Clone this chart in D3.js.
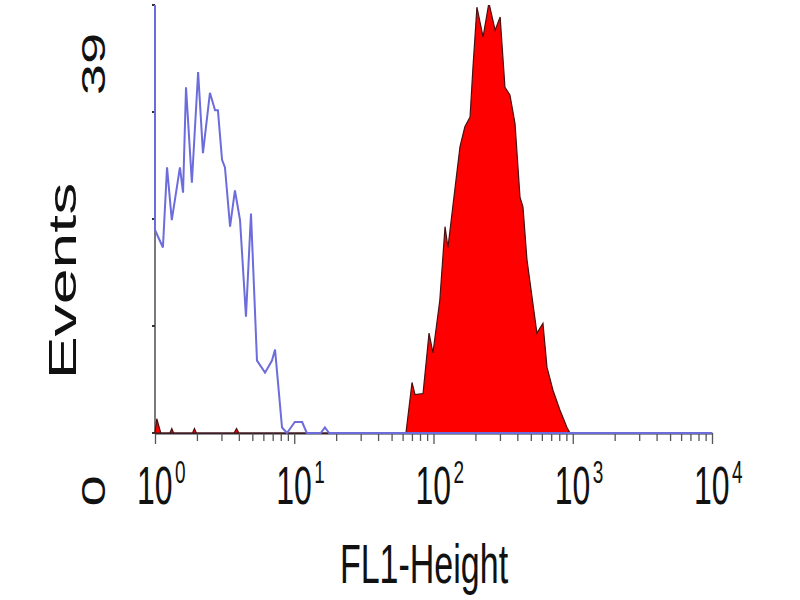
<!DOCTYPE html>
<html>
<head>
<meta charset="utf-8">
<script src="https://cdn.jsdelivr.net/npm/d3@7"></script>
<style>
  body { margin: 0; background: #fff; }
  text { font-family: "Liberation Sans", Arial, sans-serif; fill: #111; }
</style>
</head>
<body>
<svg id="chart" width="800" height="600"></svg>
<script>
// isotype control (blue outline)
const blueFL1 = [1, 1, 1.14, 1.22, 1.32, 1.51, 1.59, 1.67, 1.84, 2.04, 2.21, 2.48, 2.70, 2.83, 3.03, 3.18,
  3.46, 3.75, 4.08, 4.50, 4.89, 5.40, 6.17, 6.92, 7.28, 8.17, 8.87, 10.1, 11.4, 12.3, 15.5, 16.6, 17.8, 10000];
const blueEvents = [45, 18.5, 16.9, 24.2, 19.4, 24.2, 21.9, 31.5, 22.8, 32.9, 25.5, 31.0, 29.4, 29.4, 24.9, 24.2,
  18.8, 22.1, 19.4, 10.6, 20.0, 6.6, 5.5, 6.6, 7.6, 0.5, 0, 1.0, 1.0, 0, 0, 0.5, 0, 0];

// stained sample (red filled)
const redFL1 = [1, 1.03, 1.1, 1.28, 1.32, 1.36, 1.86, 1.92, 1.98, 3.7, 3.85, 4.0, 63.4, 70.1, 73.7, 84.1, 92.9, 99.1,
  111, 121, 127, 143, 155, 168, 183, 192, 205, 227, 250, 277, 301, 326, 354, 385, 418, 439, 469,
  553, 611, 653, 721, 809, 909, 955];
const redEvents = [0, 1.3, 0, 0, 0.4, 0, 0, 0.4, 0, 0, 0.4, 0, 0, 4.6, 3.5, 3.6, 9.1, 7.3,
  12.1, 18.8, 16.9, 22.4, 26.1, 27.9, 28.8, 33.3, 38.8, 36.1, 39.2, 36.7, 37.9, 31.5, 30.8, 28.2, 21.5, 20.6, 15.8,
  9.1, 10.0, 6.0, 3.9, 2.1, 0.5, 0];

const xExponents = [0, 1, 2, 3, 4];
const yTickValues = [0, 9.75, 19.5, 29.25, 39];
const yTickLabels = ["0", "39"];

const margin = { left: 155, right: 88, top: 5, bottom: 167 };
const width = 800, height = 600;
const innerWidth = width - margin.left - margin.right;
const innerHeight = height - margin.top - margin.bottom;
const sy = 1.65; // the original picture is stretched vertically

const svg = d3.select("#chart");
svg.append("rect").attr("width", width).attr("height", height).attr("fill", "#fff");

const x = d3.scaleLog().domain([1, 10000]).range([0, innerWidth]);
const y = d3.scaleLinear().domain([0, 39]).range([innerHeight, 0]);

const g = svg.append("g").attr("transform", `translate(${margin.left},${margin.top})`);

g.append("clipPath").attr("id", "plot-area")
  .append("rect").attr("x", -2).attr("y", 0).attr("width", innerWidth + 4).attr("height", innerHeight + 2);

// y axis
g.append("line")
  .attr("x1", 0).attr("x2", 0).attr("y1", y(39)).attr("y2", y(0))
  .attr("stroke", "#7a7a7a").attr("stroke-width", 2);
g.selectAll(".ytick").data(yTickValues).enter().append("line")
  .attr("x1", -3).attr("x2", 0)
  .attr("y1", d => y(d)).attr("y2", d => y(d))
  .attr("stroke", "#333").attr("stroke-width", 2);

// x axis with log minor ticks
const xAxis = d3.axisBottom(x)
  .tickValues(d3.range(0, 4).flatMap(e => d3.range(1, 10).map(m => m * Math.pow(10, e))).concat([10000]))
  .tickSize(8).tickSizeOuter(0).tickFormat("");
const xg = g.append("g").attr("transform", `translate(0,${innerHeight})`).call(xAxis);
xg.select(".domain").attr("stroke", "#2a2a3a").attr("stroke-width", 2);
xg.selectAll(".tick line").attr("stroke", "#555").attr("stroke-width", 1.3)
  .attr("y2", d => xExponents.includes(Math.log10(d)) ? 11 : 8);

// red filled histogram
const area = d3.area().x((d, i) => x(redFL1[i])).y0(y(0)).y1(d => y(d));
g.append("path").datum(redEvents)
  .attr("clip-path", "url(#plot-area)")
  .attr("d", area)
  .attr("fill", "#ff0000").attr("stroke", "#4a1010").attr("stroke-width", 1.2);

// blue outline histogram
const line = d3.line().x((d, i) => x(blueFL1[i])).y(d => y(d));
g.append("path").datum(blueEvents)
  .attr("clip-path", "url(#plot-area)")
  .attr("d", line)
  .attr("fill", "none").attr("stroke", "#6c6cdc").attr("stroke-width", 2);

// x tick labels 10^n
const xl = g.selectAll(".xlab").data(xExponents).enter().append("g")
  .attr("transform", d => `translate(${x(Math.pow(10, d))},${innerHeight + 71}) scale(1,${sy})`);
xl.append("text").attr("x", -18).attr("font-size", 32).text("10");
xl.append("text").attr("x", 20).attr("y", -13).attr("font-size", 19).text(d => d);

// y tick labels (rotated)
g.selectAll(".ylab").data(yTickLabels).enter().append("text")
  .attr("transform", d => `translate(-50,${d === "0" ? y(0) + 58 : y(39) + 59}) scale(1,${sy}) rotate(-90)`)
  .attr("text-anchor", "middle").attr("font-size", 34)
  .text(d => d);

// axis titles
svg.append("text")
  .attr("transform", `translate(424,583) scale(1,${sy})`)
  .attr("text-anchor", "middle").attr("font-size", 34)
  .text("FL1-Height");
svg.append("text")
  .attr("transform", `translate(76,281) scale(1,${sy}) rotate(-90)`)
  .attr("text-anchor", "middle").attr("font-size", 39)
  .text("Events");
</script>
</body>
</html>
